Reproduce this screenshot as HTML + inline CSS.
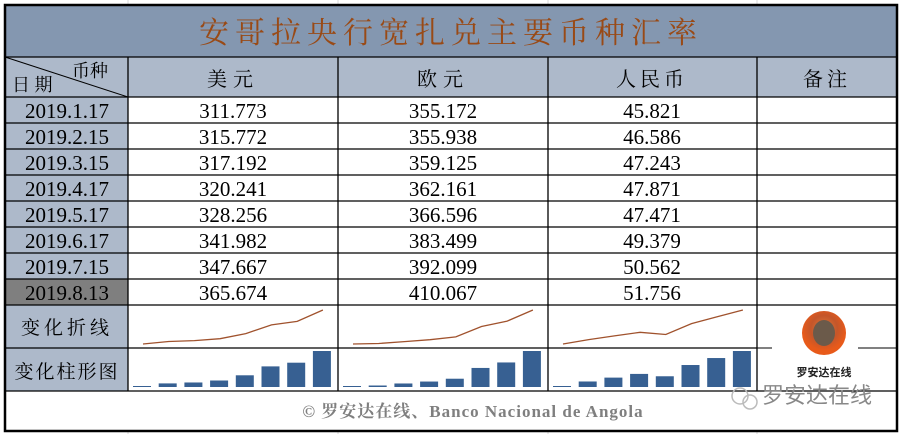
<!DOCTYPE html>
<html><head><meta charset="utf-8"><style>
body{margin:0;width:903px;height:434px;background:#fff;overflow:hidden;font-family:"Liberation Serif","Noto Serif CJK SC",serif}
svg{position:absolute;left:0;top:0}
</style></head><body>
<svg width="903" height="434" id="s" xmlns="http://www.w3.org/2000/svg">
<g stroke="#d8d8d8" stroke-width="1">
<line x1="128" y1="0" x2="128" y2="5"/><line x1="338" y1="0" x2="338" y2="5"/><line x1="548" y1="0" x2="548" y2="5"/><line x1="757" y1="0" x2="757" y2="5"/>
<line x1="128" y1="431" x2="128" y2="434"/><line x1="338" y1="431" x2="338" y2="434"/><line x1="548" y1="431" x2="548" y2="434"/><line x1="757" y1="431" x2="757" y2="434"/>
</g>
<rect x="5" y="5" width="892" height="52" fill="#8497b0"/>
<rect x="5" y="57" width="892" height="40" fill="#adb9ca"/>
<rect x="5" y="97" width="123" height="182" fill="#adb9ca"/>
<rect x="5" y="279" width="123" height="26" fill="#7f7f7f"/>
<rect x="5" y="305" width="123" height="86" fill="#adb9ca"/>
<g stroke="#000" stroke-width="1.3">
<line x1="5" y1="57" x2="897" y2="57"/><line x1="5" y1="97" x2="897" y2="97"/>
<line x1="5" y1="123" x2="897" y2="123"/><line x1="5" y1="149" x2="897" y2="149"/>
<line x1="5" y1="175" x2="897" y2="175"/><line x1="5" y1="201" x2="897" y2="201"/>
<line x1="5" y1="227" x2="897" y2="227"/><line x1="5" y1="253" x2="897" y2="253"/>
<line x1="5" y1="279" x2="897" y2="279"/><line x1="5" y1="305" x2="897" y2="305"/>
<line x1="5" y1="348" x2="757" y2="348"/><line x1="5" y1="391" x2="897" y2="391"/>
<line x1="128" y1="57" x2="128" y2="391"/><line x1="338" y1="57" x2="338" y2="391"/>
<line x1="548" y1="57" x2="548" y2="391"/><line x1="757" y1="57" x2="757" y2="391"/>
<line x1="5" y1="57" x2="128" y2="97" stroke-width="1"/>
</g>
<rect x="5" y="5" width="892" height="426" fill="none" stroke="#000" stroke-width="2.5"/>
<line x1="757" y1="348" x2="772" y2="348" stroke="#000"/><line x1="858" y1="348" x2="897" y2="348" stroke="#000"/>
<text x="451" y="43" text-anchor="middle" font-size="30" fill="#994a16" letter-spacing="6">安哥拉央行宽扎兑主要币种汇率</text>
<g font-size="18" fill="#000">
<text x="12" y="91">日 期</text><text x="72" y="77">币种</text>
</g>
<g font-size="20" text-anchor="middle" fill="#000">
<text x="233" y="86" letter-spacing="6">美元</text><text x="443" y="86" letter-spacing="6">欧元</text>
<text x="652" y="86" letter-spacing="4">人民币</text><text x="827" y="86" letter-spacing="4">备注</text>
</g>
<g font-size="21" text-anchor="middle" fill="#000">
<text x="67" y="118">2019.1.17</text><text x="67" y="144">2019.2.15</text><text x="67" y="170">2019.3.15</text><text x="67" y="196">2019.4.17</text>
<text x="67" y="222">2019.5.17</text><text x="67" y="248">2019.6.17</text><text x="67" y="274">2019.7.15</text><text x="67" y="300">2019.8.13</text>
<text x="233" y="118">311.773</text><text x="233" y="144">315.772</text><text x="233" y="170">317.192</text><text x="233" y="196">320.241</text>
<text x="233" y="222">328.256</text><text x="233" y="248">341.982</text><text x="233" y="274">347.667</text><text x="233" y="300">365.674</text>
<text x="443" y="118">355.172</text><text x="443" y="144">355.938</text><text x="443" y="170">359.125</text><text x="443" y="196">362.161</text>
<text x="443" y="222">366.596</text><text x="443" y="248">383.499</text><text x="443" y="274">392.099</text><text x="443" y="300">410.067</text>
<text x="652" y="118">45.821</text><text x="652" y="144">46.586</text><text x="652" y="170">47.243</text><text x="652" y="196">47.871</text>
<text x="652" y="222">47.471</text><text x="652" y="248">49.379</text><text x="652" y="274">50.562</text><text x="652" y="300">51.756</text>
</g>
<g font-size="19" fill="#000" text-anchor="middle">
<text x="67" y="334" letter-spacing="4">变化折线</text><text x="67" y="378" letter-spacing="2">变化柱形图</text>
</g>
<text x="473" y="417" text-anchor="middle" font-size="17" font-weight="bold" fill="#7f7f7f" letter-spacing="1">© 罗安达在线、Banco Nacional de Angola</text>
<defs><radialGradient id="g" cx="50%" cy="40%"><stop offset="0" stop-color="#e07a3a"/><stop offset="0.6" stop-color="#c4562a"/><stop offset="1" stop-color="#e85a1a"/></radialGradient></defs>
<circle cx="824" cy="333" r="22" fill="url(#g)"/>
<ellipse cx="824" cy="333" rx="11" ry="13" fill="#6b5a4a"/>
<text x="824" y="376" text-anchor="middle" font-size="11" font-weight="bold" font-family="Liberation Sans,Noto Sans CJK SC,sans-serif" fill="#222">罗安达在线</text>
<circle cx="740" cy="396" r="8" fill="none" stroke="#bbb" stroke-width="1.5"/><circle cx="750" cy="402" r="7" fill="none" stroke="#bbb" stroke-width="1.5"/>
<text x="762" y="403" font-size="22" fill="#888" font-family="Liberation Sans,Noto Sans CJK SC,sans-serif">罗安达在线</text>
<g id="charts"></g>
</svg>
<script>
var d=[[311.773,315.772,317.192,320.241,328.256,341.982,347.667,365.674],[355.172,355.938,359.125,362.161,366.596,383.499,392.099,410.067],[45.821,46.586,47.243,47.871,47.471,49.379,50.562,51.756]];
var h='';
d.forEach(function(a,c){var mn=Math.min.apply(0,a),mx=Math.max.apply(0,a),off=c*210,p=[];
a.forEach(function(v,i){var f=(v-mn)/(mx-mn);p.push((143+off+i*25.7).toFixed(1)+','+(344-f*34).toFixed(1));
h+='<rect x="'+(133+off+i*25.7)+'" y="'+(387-1-f*35)+'" width="18" height="'+(1+f*35)+'" fill="#376092"/>';});
h+='<polyline points="'+p.join(' ')+'" fill="none" stroke="#a0522d" stroke-width="1.3"/>';});
document.getElementById('charts').innerHTML=h;
</script>
</body></html>
